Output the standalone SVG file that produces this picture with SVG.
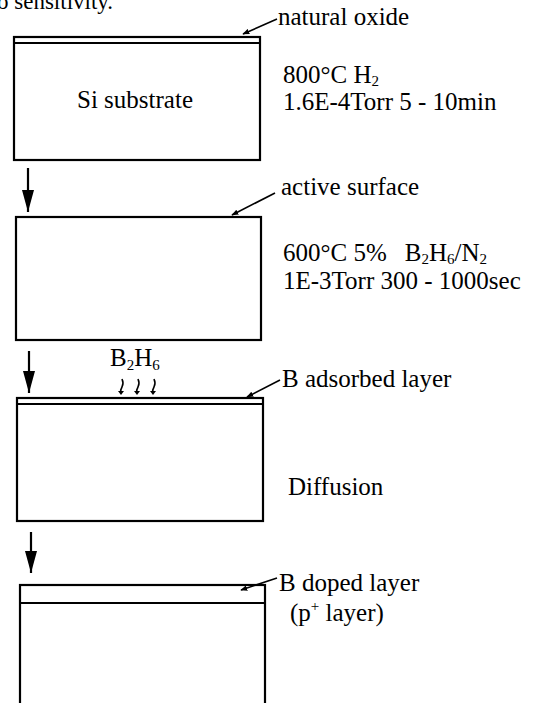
<svg xmlns="http://www.w3.org/2000/svg" width="536" height="703" viewBox="0 0 536 703">
<defs>
<style>
text{font-family:"Liberation Serif","Times New Roman",serif;font-size:25px;fill:#000}
.box{fill:#fff;stroke:#000;stroke-width:2.2}
.lyr{fill:none;stroke:#000;stroke-width:2}
.lead{fill:none;stroke:#000;stroke-width:1.6}
.down{fill:none;stroke:#000;stroke-width:2.2}
.sq{fill:none;stroke:#000;stroke-width:1.6}
.sub{font-size:15px}
</style>
<marker id="ah" viewBox="0 0 10 10" refX="9" refY="5" markerWidth="7" markerHeight="7" markerUnits="userSpaceOnUse" orient="auto"><path d="M0,1 L10,5 L0,9 z" fill="#000"/></marker>
<marker id="big" viewBox="0 0 10 20" refX="10" refY="10" markerWidth="22" markerHeight="12" markerUnits="userSpaceOnUse" orient="auto" preserveAspectRatio="none"><path d="M0,0 L10,10 L0,20 z" fill="#000"/></marker>
</defs>
<rect width="536" height="703" fill="#fff"/>
<text x="-3" y="9" style="font-size:23px">o sensitivity.</text>

<g id="step1">
<rect class="box" x="14" y="37" width="246" height="123"/>
<line class="lyr" x1="14" y1="43" x2="260" y2="43"/>
<text x="135" y="108" text-anchor="middle">Si substrate</text>
<text x="283" y="83">800°C H<tspan class="sub" dy="3">2</tspan></text>
<text x="283" y="110">1.6E-4Torr 5 - 10min</text>
<text x="278" y="25">natural oxide</text>
</g>

<g id="step2">
<rect class="box" x="16" y="217" width="245" height="123"/>
<text x="281" y="195">active surface</text>
<text x="283" y="261">600°C 5%<tspan dx="18">B</tspan><tspan class="sub" dy="3">2</tspan><tspan dy="-3">H</tspan><tspan class="sub" dy="3">6</tspan><tspan dy="-3">/N</tspan><tspan class="sub" dy="3">2</tspan></text>
<text x="283" y="289">1E-3Torr 300 - 1000sec</text>
</g>

<g id="step3">
<rect class="box" x="17" y="398" width="246" height="123"/>
<line class="lyr" x1="17" y1="404" x2="263" y2="404"/>
<text x="110" y="366">B<tspan class="sub" dy="4">2</tspan><tspan dy="-4">H</tspan><tspan class="sub" dy="4">6</tspan></text>
<text x="282" y="387">B adsorbed layer</text>
<text x="288" y="495">Diffusion</text>
</g>

<g id="step4">
<rect class="box" x="20" y="585" width="245" height="130"/>
<line class="lyr" x1="20" y1="603" x2="265" y2="603"/>
<text x="279" y="591">B doped layer</text>
<text x="290" y="621">(p<tspan class="sub" dy="-10">+</tspan><tspan dy="10"> layer)</tspan></text>
</g>

<g id="connectors">
<line class="lead" x1="277" y1="19" x2="243" y2="34" marker-end="url(#ah)"/>
<line class="lead" x1="275" y1="193" x2="232" y2="215" marker-end="url(#ah)"/>
<line class="lead" x1="280" y1="380" x2="247" y2="397" marker-end="url(#ah)"/>
<line class="lead" x1="277" y1="578" x2="241" y2="590" marker-end="url(#ah)"/>
<line class="down" x1="28" y1="168" x2="28" y2="212" marker-end="url(#big)"/>
<line class="down" x1="29" y1="351" x2="29" y2="393" marker-end="url(#big)"/>
<line class="down" x1="31" y1="532" x2="31" y2="573" marker-end="url(#big)"/>
<path class="sq" d="M122,379 q2,4 0,8 q-2,3 -1,6"/>
<path class="sq" d="M138,379 q2,4 0,8 q-2,3 -1,6"/>
<path class="sq" d="M154,379 q2,4 0,8 q-2,3 -1,6"/>
<path d="M118,391 L124,391 L121,395 z M134,391 L140,391 L137,395 z M150,391 L156,391 L153,395 z" fill="#000"/>
</g>
</svg>
